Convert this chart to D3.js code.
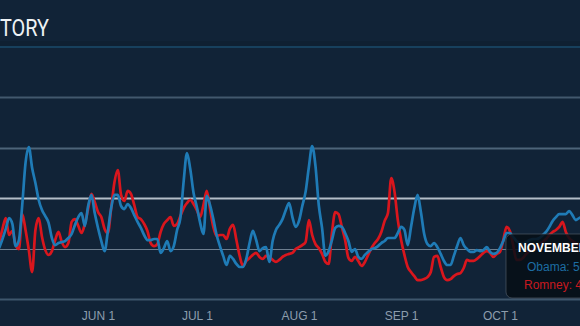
<!DOCTYPE html>
<html>
<head>
<meta charset="utf-8">
<script src="https://cdn.jsdelivr.net/npm/d3@7"></script>
<style>
  html, body { margin: 0; padding: 0; background: #112337; overflow: hidden; }
  svg { display: block; }
</style>
</head>
<body>
<svg id="chart" width="580" height="326"></svg>
<script>
// Daily readings starting 2012-05-02 (UTC)
const startDay = "2012-05-02";
const obama = [20.2,23.8,27.8,32.1,29.8,21.0,23.4,37.3,54.0,60.3,
52.0,46.0,39.3,35.3,32.9,30.2,24.2,21.4,22.2,22.6,
23.0,24.2,25.8,29.4,32.5,34.1,29.0,36.9,41.3,34.1,
28.2,23.0,19.0,27.0,36.1,41.3,41.3,36.9,35.7,37.7,
36.1,33.3,30.6,28.2,25.4,23.4,23.4,23.8,23.8,18.3,
20.2,23.0,19.0,21.0,27.4,32.1,46.8,57.9,51.6,42.1,
36.5,30.2,25.8,40.9,37.3,31.7,25.4,21.0,17.1,13.5,
17.1,15.9,13.9,12.7,12.7,15.9,22.2,27.0,23.4,19.0,
20.2,20.6,14.7,23.0,27.4,29.4,31.7,35.3,38.1,32.5,
28.6,31.0,36.9,42.5,52.4,60.7,52.8,37.3,28.2,17.1,
19.0,23.4,28.2,29.0,28.6,26.2,23.0,18.7,19.8,16.7,
15.9,17.5,18.7,19.8,20.2,21.0,22.2,23.0,24.2,24.2,
24.2,26.2,28.6,27.4,21.4,28.6,36.1,41.3,34.5,25.8,
21.8,21.0,22.2,20.6,17.9,15.1,13.5,13.5,17.1,21.0,
24.2,21.4,19.8,18.7,18.7,19.4,19.0,19.4,20.6,18.7,
17.9,18.3,20.2,23.0,26.2,26.2,24.6,23.0,22.2,21.8,
22.6,23.4,23.8,23.8,24.2,25.4,26.6,28.6,31.0,32.5,
33.7,33.7,33.7,34.9,33.3,31.3,32.1,32.5];
const romney = [22.2,27.8,32.1,25.4,27.0,21.4,19.8,33.7,27.4,19.4,
10.7,27.4,32.1,24.6,19.4,17.5,19.0,23.4,26.6,22.6,
20.6,22.2,30.6,31.7,29.0,26.2,29.8,35.7,41.7,38.5,
34.5,32.5,27.8,26.2,36.1,46.4,51.2,41.3,38.9,42.9,
41.7,37.3,32.5,31.7,29.8,27.0,22.2,21.0,21.8,26.6,
29.8,31.3,32.5,29.0,29.8,32.9,36.1,38.1,39.3,37.7,
35.3,32.5,37.3,42.9,35.7,28.6,25.0,25.4,25.4,23.8,
27.8,29.4,23.4,17.1,13.1,15.1,16.3,17.5,18.3,16.7,
15.9,17.1,16.7,15.5,14.7,15.5,16.7,17.5,17.9,18.3,
19.8,20.6,21.4,22.6,31.3,25.4,21.8,20.2,17.9,14.7,
13.9,26.2,34.5,33.7,28.6,23.4,16.3,15.1,16.7,15.1,
13.1,14.7,17.5,20.2,22.2,23.8,26.6,31.0,34.1,48.0,
42.5,31.3,23.4,17.5,12.7,10.7,9.1,7.5,7.5,7.9,
8.7,10.7,16.7,17.1,12.7,8.7,7.5,7.9,9.1,9.9,
10.3,12.3,15.5,15.1,15.1,15.9,17.1,18.3,19.0,18.3,
16.7,17.9,18.7,23.4,28.6,27.0,21.4,15.5,15.5,16.3,
17.9,19.0,19.8,20.6,21.4,22.6,23.8,25.4,26.6,27.4,
28.6,30.6,26.6,24.2,23.0,22.2,21.4,21.4];

const xTicks = ["2012-06-01", "2012-07-01", "2012-08-01", "2012-09-01", "2012-10-01"];
const gridValues = [20, 40, 60, 80];
const titleText = "TORY";
const tooltipLines = ["NOVEMBER 6", "Obama: 50.8%", "Romney: 47.5%"];

const W = 580, H = 326;
const svg = d3.select("#chart");
const parse = d3.utcParse("%Y-%m-%d");
const start = parse(startDay);

const x = d3.scaleUtc()
  .domain([new Date(Date.UTC(2012, 4, 2, 6)), new Date(Date.UTC(2012, 9, 25, 7))])
  .range([0, W]);
const y = d3.scaleLinear().domain([0, 100]).range([299, 47]);

svg.append("rect").attr("width", W).attr("height", H).attr("fill", "#112337");

// header band and separator
svg.append("rect").attr("x", 0).attr("y", y(100) - 6).attr("width", W).attr("height", 6)
  .attr("fill", "#0f2032");
svg.append("line").attr("x1", 0).attr("x2", W).attr("y1", y(100)).attr("y2", y(100))
  .attr("stroke", "#17405d").attr("stroke-width", 2);

// title
svg.append("text")
  .attr("x", 0).attr("y", 36)
  .attr("textLength", 49)
  .attr("lengthAdjust", "spacingAndGlyphs")
  .attr("font-family", "Roboto, 'Open Sans', sans-serif")
  .attr("font-size", 24)
  .attr("fill", "#eef2f5")
  .text(titleText);

// gridlines
const gridStyle = {
  20: { stroke: "#6d7e8f", width: 1 },
  40: { stroke: "#b4bec8", width: 2 },
  60: { stroke: "#4d6479", width: 2 },
  80: { stroke: "#42586d", width: 2 }
};
svg.append("g").selectAll("line").data(gridValues).join("line")
  .attr("x1", 0).attr("x2", W)
  .attr("y1", d => Math.round(y(d)) + 0.5).attr("y2", d => Math.round(y(d)) + 0.5)
  .attr("stroke", d => gridStyle[d].stroke)
  .attr("stroke-width", d => gridStyle[d].width);

// x axis
const xAxis = d3.axisBottom(x)
  .tickValues(xTicks.map(parse))
  .tickSize(0)
  .tickPadding(12)
  .tickFormat(d => d3.utcFormat("%b %-d")(d).toUpperCase());
const gx = svg.append("g").attr("transform", `translate(0,${y(0)})`).call(xAxis);
gx.select(".domain").remove();
gx.append("line").attr("x1", 0).attr("x2", W).attr("y1", 0.5).attr("y2", 0.5)
  .attr("stroke", "#3e566c").attr("stroke-width", 2);
gx.selectAll(".tick text")
  .attr("font-family", "'Liberation Sans', Arial, sans-serif")
  .attr("font-size", 12)
  .attr("fill", "#8d9dad")
  .attr("dy", "0.71em");

// series
const line = d3.line()
  .x((d, i) => x(d3.utcDay.offset(start, i)))
  .y(d => y(d))
  .curve(d3.curveMonotoneX);

svg.append("path").datum(romney)
  .attr("d", line).attr("fill", "none")
  .attr("stroke", "#d9161d").attr("stroke-width", 2.7)
  .attr("stroke-linejoin", "round");
svg.append("path").datum(obama)
  .attr("d", line).attr("fill", "none")
  .attr("stroke", "#1f7bb6").attr("stroke-width", 2.7)
  .attr("stroke-linejoin", "round");

// tooltip
const tip = svg.append("g").attr("transform", "translate(506,234)");
tip.append("rect").attr("width", 100).attr("height", 64).attr("rx", 6)
  .attr("fill", "rgba(6,14,22,0.86)")
  .attr("stroke", "rgba(90,100,110,0.6)").attr("stroke-width", 1);
const tipFont = "'Liberation Sans', Arial, sans-serif";
tip.append("text").attr("x", 12).attr("y", 18)
  .attr("font-family", tipFont).attr("font-size", 12).attr("font-weight", "bold")
  .attr("fill", "#ffffff").text(tooltipLines[0]);
tip.append("text").attr("x", 21).attr("y", 37)
  .attr("font-family", tipFont).attr("font-size", 12)
  .attr("fill", "#1d6da3").text(tooltipLines[1]);
tip.append("text").attr("x", 18).attr("y", 55)
  .attr("font-family", tipFont).attr("font-size", 12)
  .attr("fill", "#c8191f").text(tooltipLines[2]);
</script>
</body>
</html>
